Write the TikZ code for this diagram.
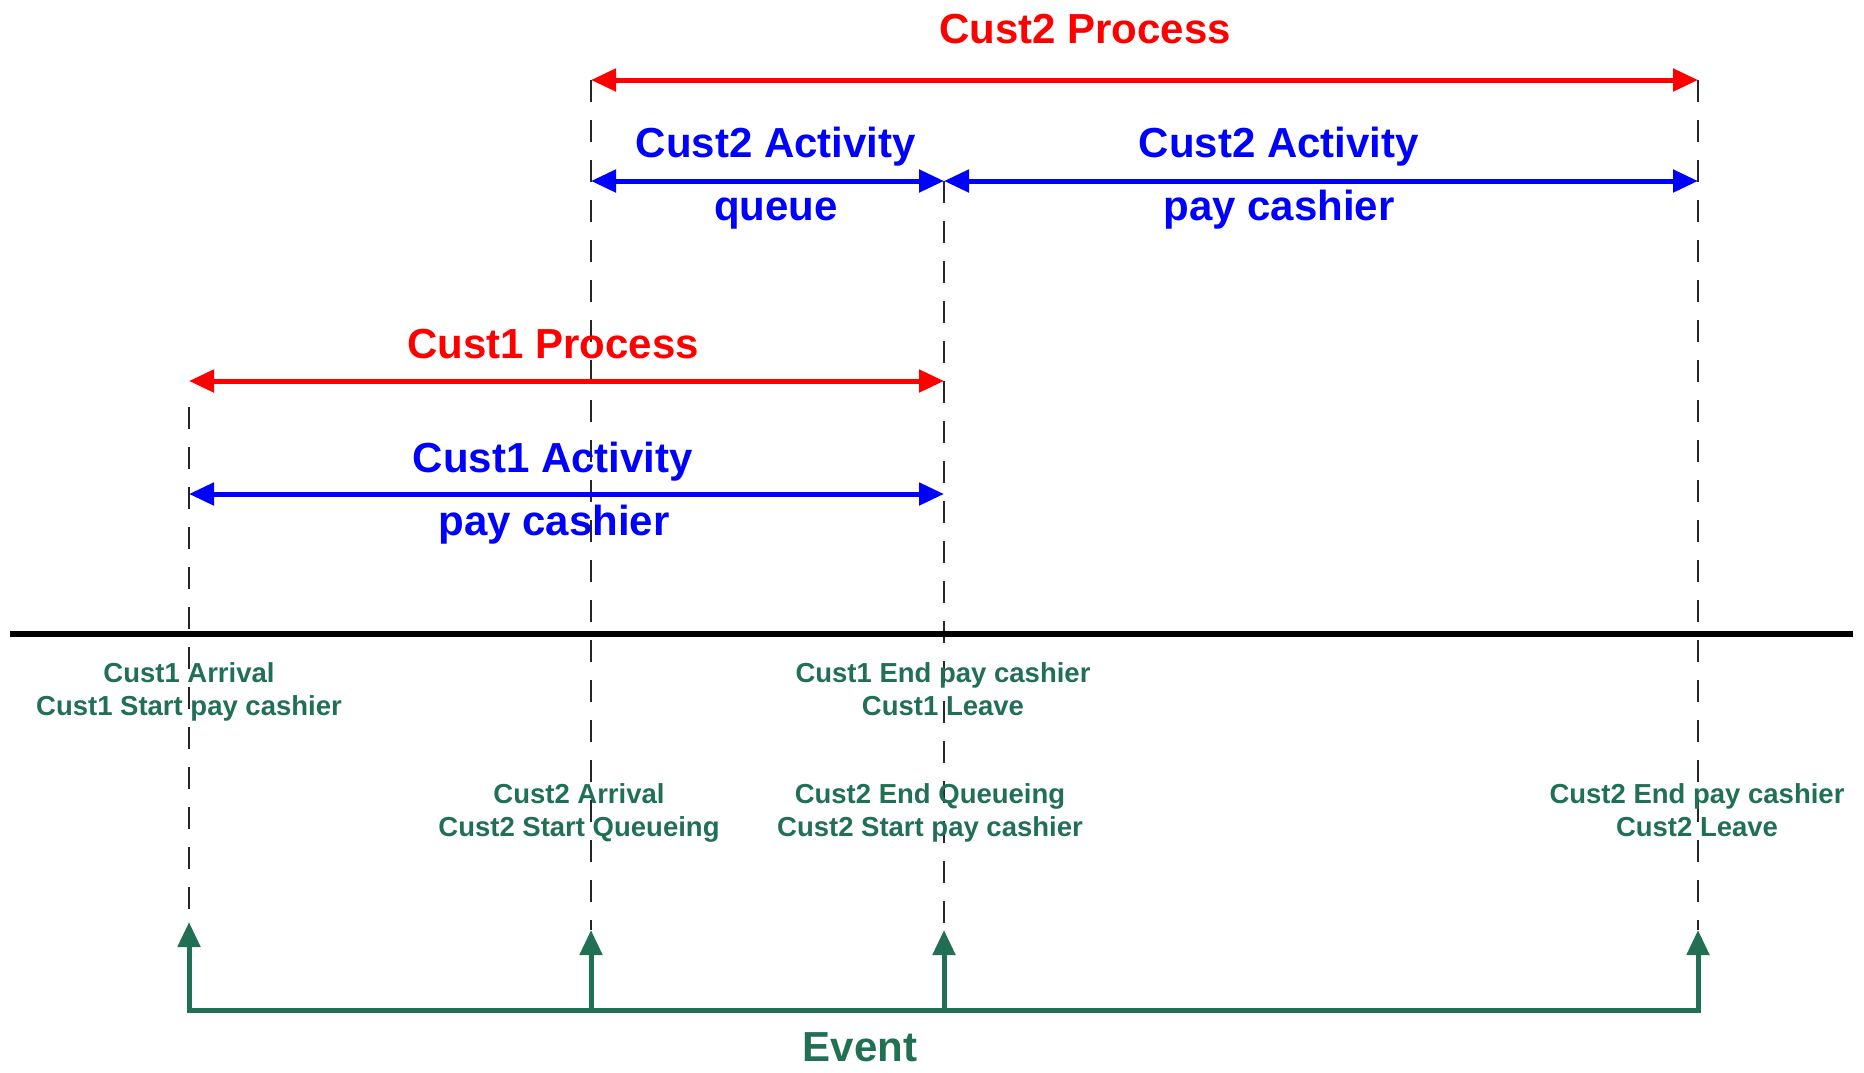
\documentclass[tikz,border=0pt]{standalone}
\usepackage{fontspec}
\setmainfont{Liberation Sans}
\usetikzlibrary{arrows.meta}
\definecolor{evgreen}{RGB}{33,112,84}
\definecolor{procred}{RGB}{255,0,0}
\definecolor{actblue}{RGB}{0,0,255}
\begin{document}
\begin{tikzpicture}[x=1pt,y=-1pt,
  big/.style={font=\fontsize{42}{48}\selectfont\bfseries, inner sep=0pt, text height=31pt, text depth=9pt},
  evlabel/.style={font=\fontsize{27.5}{33}\selectfont\bfseries, text=evgreen, align=center, inner sep=0pt},
  span/.style={line width=5pt, {Triangle[length=25pt,width=22pt]}-{Triangle[length=25pt,width=22pt]}},
  guide/.style={line width=1.8pt, black!85, dash pattern=on 22pt off 18pt},
  evline/.style={line width=5pt, evgreen, line cap=rect},
  evarrow/.style={line width=5pt, evgreen, -{Triangle[length=25pt,width=22pt]}}]
\useasboundingbox (0,0) rectangle (1864,1072);

% guide tops and tips
\coordinate (g1top) at (189,407);
\coordinate (g1tip) at (189,922);
\coordinate (g2top) at (591,80);
\coordinate (g2tip) at (591,930);
\coordinate (g3top) at (944,181);
\coordinate (g3tip) at (944,930);
\coordinate (g4top) at (1698,80);
\coordinate (g4tip) at (1698,930);

% span ends
\coordinate (a2l) at (591,181);
\coordinate (a2r) at (1698,181);
\coordinate (p1l) at (189,381);
\coordinate (p1r) at (944,381);
\coordinate (b1l) at (189,494);
\coordinate (b1r) at (944,494);

% timeline
\coordinate (tl) at (9.5,634);
\coordinate (tr) at (1853,634);

% event baseline
\coordinate (e1) at (189,1010);
\coordinate (e2) at (591,1010);
\coordinate (e3) at (944,1010);
\coordinate (e4) at (1698,1010);

% dashed guides
\draw[guide] (g1top) -- (g1tip);
\draw[guide] (g2top) -- (g2tip);
\draw[guide] (g3top) -- (g3tip);
\draw[guide] (g4top) -- (g4tip);

% timeline
\draw[line width=6pt] (tl) -- (tr);

% process / activity spans
\draw[span, procred] (g2top) -- (g4top);
\draw[span, actblue] (a2l) -- (g3top);
\draw[span, actblue] (g3top) -- (a2r);
\draw[span, procred] (p1l) -- (p1r);
\draw[span, actblue] (b1l) -- (b1r);

% span labels
\node[big, text=procred] (t2p) at (1085,32.5) {Cust2 Process};
\node[big, text=actblue] (t2a1) at (776,146.5) {Cust2 Activity};
\node[big, text=actblue] (t2q) at (776,209.5) {queue};
\node[big, text=actblue] (t2a2) at (1279,146.5) {Cust2 Activity};
\node[big, text=actblue] (t2pc) at (1279,209.5) {pay cashier};
\node[big, text=procred] (t1p) at (553,347) {Cust1 Process};
\node[big, text=actblue] (t1a) at (553,461.5) {Cust1 Activity};
\node[big, text=actblue] (t1pc) at (554,524.5) {pay cashier};

% event labels
\node[evlabel] (ev1) at (189,692) {\strut Cust1 Arrival\\\strut Cust1 Start pay cashier};
\node[evlabel] (ev3a) at (943,692) {\strut Cust1 End pay cashier\\\strut Cust1 Leave};
\node[evlabel] (ev2) at (579,813.5) {\strut Cust2 Arrival\\\strut Cust2 Start Queueing};
\node[evlabel] (ev3b) at (930,813.5) {\strut Cust2 End Queueing\\\strut Cust2 Start pay cashier};
\node[evlabel] (ev4) at (1697,813.5) {\strut Cust2 End pay cashier\\\strut Cust2 Leave};

% event arrows
\draw[evline] (e1) -- (e4);
\draw[evarrow] (e1) -- (g1tip);
\draw[evarrow] (e2) -- (g2tip);
\draw[evarrow] (e3) -- (g3tip);
\draw[evarrow] (e4) -- (g4tip);
\node[big, text=evgreen] (evt) at (860,1050.5) {Event};
\end{tikzpicture}
\end{document}
